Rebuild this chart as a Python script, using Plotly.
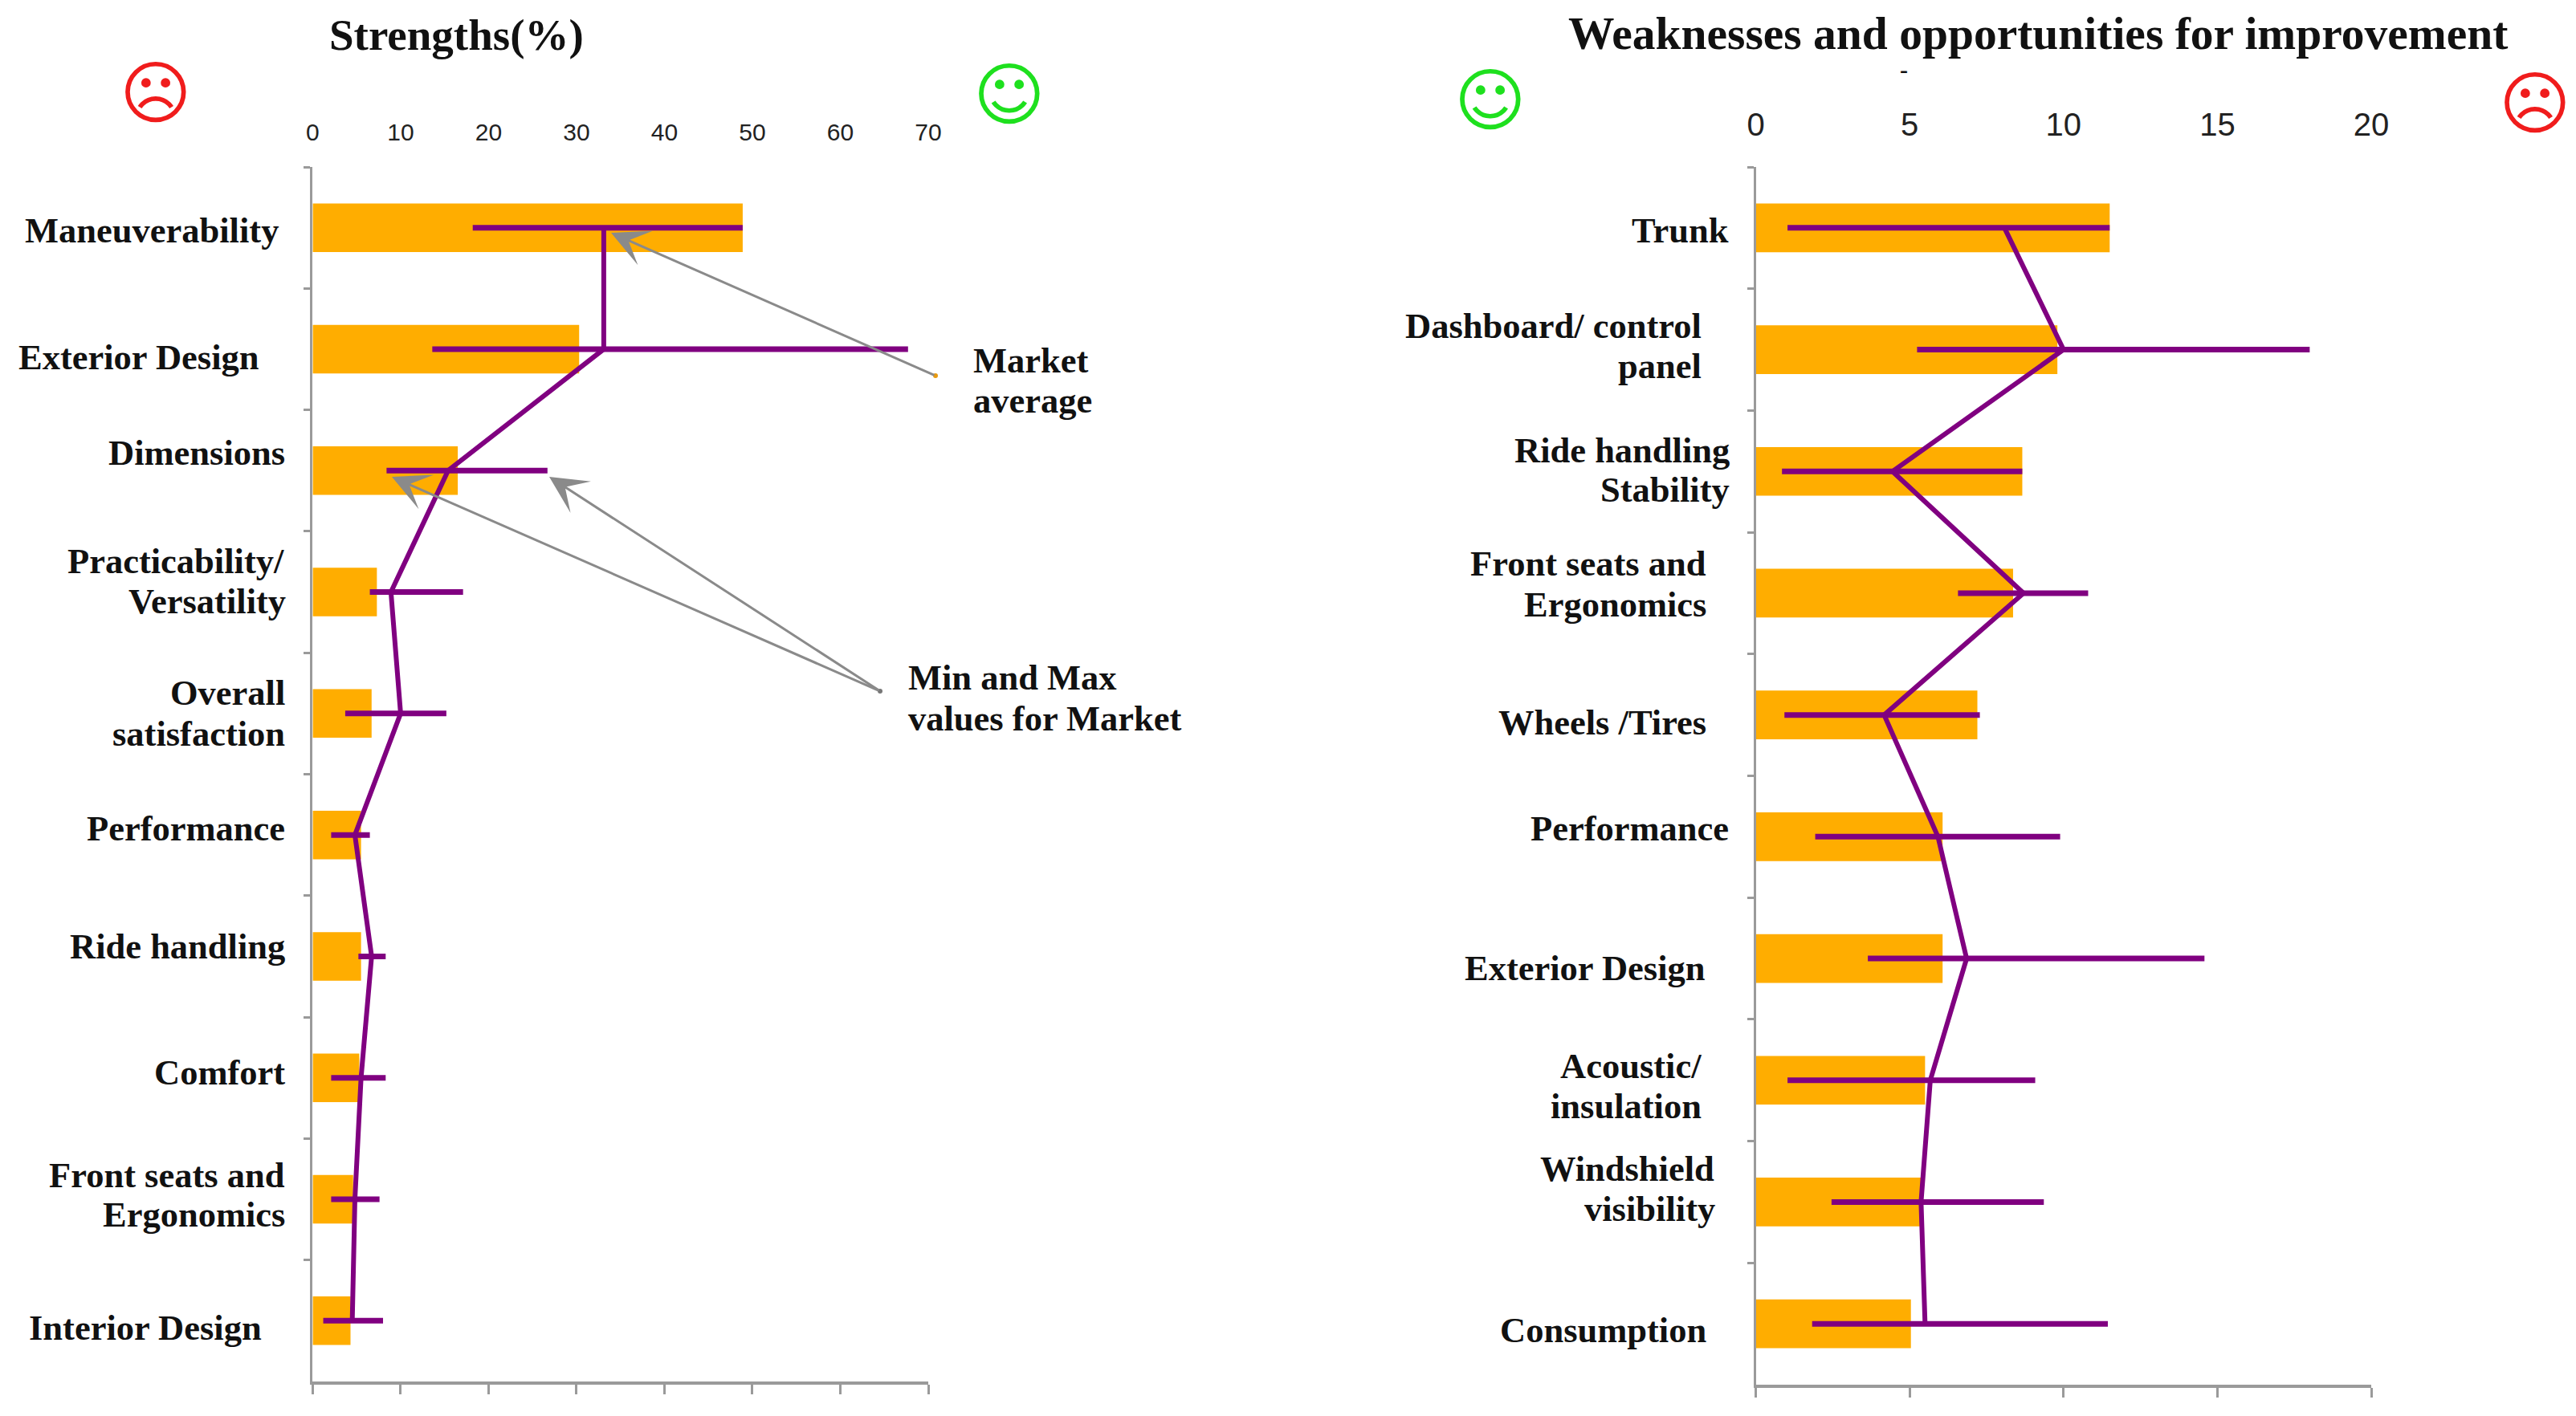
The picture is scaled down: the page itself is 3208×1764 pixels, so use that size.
import plotly.graph_objects as go

W, H = 3208, 1764

# ---------- data ----------
s_categories = ["Maneuverability", "Exterior Design", "Dimensions", "Practicability/<br>Versatility",
                "Overall<br>satisfaction", "Performance", "Ride handling", "Comfort",
                "Front seats and<br>Ergonomics", "Interior Design"]
s_share = [48.9, 30.3, 16.5, 7.3, 6.7, 5.5, 5.5, 5.3, 4.6, 4.3]
s_avg = [33.1, 33.1, 15.4, 8.9, 10.0, 4.8, 6.7, 5.5, 4.8, 4.5]
s_min = [18.2, 13.6, 8.4, 6.5, 3.7, 2.1, 5.2, 2.1, 2.1, 1.2]
s_max = [48.9, 67.7, 26.7, 17.1, 15.2, 6.5, 8.3, 8.3, 7.6, 8.0]
s_ticks = [0, 10, 20, 30, 40, 50, 60, 70]

w_categories = ["Trunk", "Dashboard/ control<br>panel", "Ride handling<br>Stability",
                "Front seats and<br>Ergonomics", "Wheels /Tires", "Performance", "Exterior Design",
                "Acoustic/<br>insulation", "Windshield<br>visibility", "Consumption"]
w_share = [11.5, 9.8, 8.66, 8.36, 7.2, 6.07, 6.07, 5.5, 5.37, 5.04]
w_avg = [8.08, 10.0, 4.44, 8.7, 4.17, 5.92, 6.85, 5.67, 5.37, 5.5]
w_min = [1.03, 5.24, 0.85, 6.57, 0.93, 1.93, 3.64, 1.03, 2.46, 1.83]
w_max = [11.5, 18.0, 8.66, 10.8, 7.28, 9.89, 14.58, 9.08, 9.36, 11.44]
w_ticks = [0, 5, 10, 15, 20]

ORANGE = "#ffad00"
PURPLE = "#800080"
GREY = "#8a8a8a"
AXIS = "#9a9a9a"
SERIF = "Liberation Serif"


def px(x):
    return x / W


def py(y):
    return 1 - y / H


fig = go.Figure()


def add_panel(cats, share, avg, mn, mx, xa_bottom, xa_top, ya):
    fig.add_trace(go.Bar(x=share, y=cats, orientation="h", marker=dict(color=ORANGE, line_width=0),
                         width=0.4, xaxis=xa_bottom, yaxis=ya, showlegend=False))
    fig.add_trace(go.Scatter(
        x=avg, y=cats, mode="lines", line=dict(color=PURPLE, width=6),
        error_x=dict(type="data", symmetric=False,
                     array=[b - a for a, b in zip(avg, mx)],
                     arrayminus=[a - b for a, b in zip(avg, mn)],
                     color=PURPLE, thickness=7, width=0),
        xaxis=xa_top, yaxis=ya, showlegend=False))


add_panel(s_categories, s_share, s_avg, s_min, s_max, "x", "x3", "y")
add_panel(w_categories, w_share, w_avg, w_min, w_max, "x2", "x4", "y2")

ann = []


def text(t, x, y, size=44.5, anchor="right", bold=True, color="#111111", family=SERIF):
    ann.append(dict(text=f"<b>{t}</b>" if bold else t, x=px(x), y=py(y), xref="paper", yref="paper",
                    xanchor=anchor, yanchor="middle", showarrow=False,
                    font=dict(family=family, size=size, color=color)))


# Placement of each y-axis label line: (right edge, centre y) per line
s_place = [[(349, 287)], [(325, 445)], [(357, 564)], [(356, 699), (358, 749)], [(357, 863), (357, 914)],
           [(357, 1032)], [(357, 1179)], [(357, 1336)], [(357, 1464), (357, 1513)], [(328, 1654)]]
w_place = [[(2155, 287)], [(2121, 406), (2121, 456)], [(2156, 561), (2156, 610)], [(2127, 702), (2127, 753)],
           [(2127, 900)], [(2155, 1032)], [(2126, 1206)], [(2121, 1328), (2121, 1378)],
           [(2137, 1456), (2138, 1506)], [(2127, 1657)]]
for cats, place in ((s_categories, s_place), (w_categories, w_place)):
    for c, spots in zip(cats, place):
        for line, (x, y) in zip(c.split("<br>"), spots):
            text(line, x, y)

text("Strengths(%)", 568, 44, size=55, anchor="center")
text("Weaknesses and opportunities for improvement", 2538, 41, size=57.5, anchor="center")
text("Market", 1210, 449, anchor="left")
text("average", 1210, 499, anchor="left")
text("Min and Max", 1129, 844, anchor="left")
text("values for Market", 1129, 895, anchor="left")
text("-", 2371, 86, size=30, anchor="center")

FACE = "DejaVu Sans"
FACE_SIZE = 86
text("\u2639", 194, 116, size=FACE_SIZE, anchor="center", bold=False, color="#f01c1c", family=FACE)
text("\u263A", 1257, 118, size=FACE_SIZE, anchor="center", bold=False, color="#1ee01e", family=FACE)
text("\u263A", 1856, 125, size=FACE_SIZE, anchor="center", bold=False, color="#1ee01e", family=FACE)
text("\u2639", 3157, 129, size=FACE_SIZE, anchor="center", bold=False, color="#f01c1c", family=FACE)

# Callout arrows: head -> tail
for (hx, hy), (tx, ty) in [((761, 290), (1165, 468)), ((684, 594), (1096, 861)), ((488, 594), (1096, 861))]:
    ann.append(dict(x=px(hx), y=py(hy), xref="paper", yref="paper", ax=tx - hx, ay=ty - hy,
                    axref="pixel", ayref="pixel", text="", showarrow=True,
                    arrowhead=3, arrowsize=2.6, arrowwidth=3, arrowcolor=GREY))

shapes = [dict(type="circle", xref="paper", yref="paper", x0=px(cx - 3), x1=px(cx + 3), y0=py(cy + 3), y1=py(cy - 3),
               fillcolor=col, line_width=0)
          for cx, cy, col in [(1165, 468, "#e89a10"), (1096, 861, "#777777")]]

y_top = 208
common_y = dict(type="category", autorange=False, range=[9.5, -0.5], showgrid=False, zeroline=False,
                showticklabels=False, ticks="outside", tickson="boundaries", ticklen=8, tickwidth=3,
                tickcolor=AXIS, showline=True, linecolor=AXIS, linewidth=3)
x_bottom = dict(showgrid=False, zeroline=False, showticklabels=False, ticks="outside", ticklen=12, tickwidth=3,
                tickcolor=AXIS, showline=True, linecolor=AXIS, linewidth=4)
x_top = dict(showgrid=False, zeroline=False, showline=False, ticks="", side="top")

fig.update_layout(
    width=W, height=H, margin=dict(l=0, r=0, t=0, b=0, autoexpand=False), paper_bgcolor="white", plot_bgcolor="white",
    annotations=ann, shapes=shapes,
    xaxis=dict(domain=[px(389.4), px(1156)], range=[0, 70], tickvals=s_ticks, anchor="y", **x_bottom),
    xaxis2=dict(domain=[px(2186.6), px(2953)], range=[0, 20], tickvals=w_ticks, anchor="y2", **x_bottom),
    xaxis3=dict(range=[0, 70], tickvals=s_ticks, overlaying="x", anchor="y", ticklabelstandoff=26,
                tickfont=dict(family="Liberation Sans", size=30, color="#222222"), **x_top),
    xaxis4=dict(range=[0, 20], tickvals=w_ticks, overlaying="x2", anchor="y2", ticklabelstandoff=30,
                tickfont=dict(family="Liberation Sans", size=40, color="#222222"), **x_top),
    yaxis=dict(domain=[py(1721), py(y_top)], categoryorder="array", categoryarray=s_categories, anchor="x", **common_y),
    yaxis2=dict(domain=[py(1725), py(y_top)], categoryorder="array", categoryarray=w_categories, anchor="x2", **common_y),
)

fig.write_html("out.html", config=dict(displayModeBar=False), post_script="document.body.style.margin='0';")
